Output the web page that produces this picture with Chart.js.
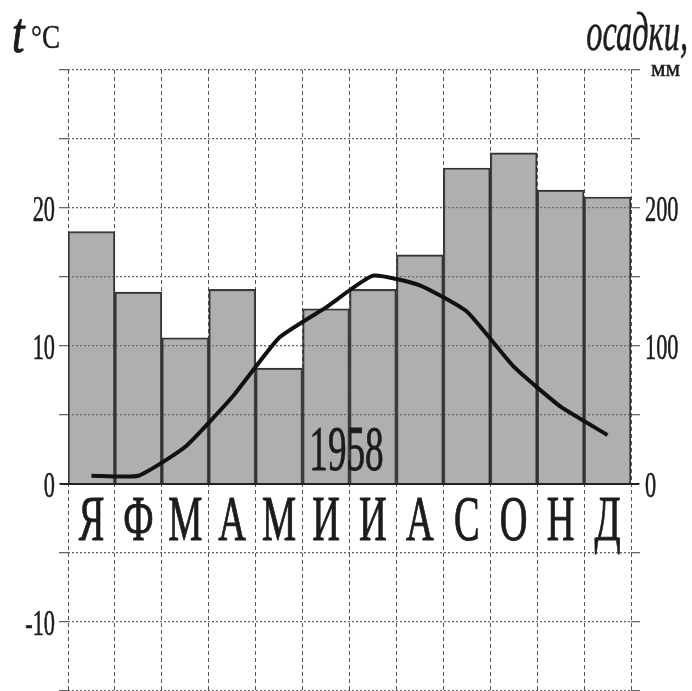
<!DOCTYPE html>
<html>
<head>
<meta charset="utf-8">
<script src="https://cdn.jsdelivr.net/npm/chart.js@4/dist/chart.umd.min.js"></script>
<style>
  body { margin: 0; background: #fff; }
  #wrap { width: 692px; height: 691px; position: relative; }
</style>
</head>
<body>
<div id="wrap"><canvas id="climate"></canvas></div>
<script>
// Климатограмма, 1958
const months = ['Я', 'Ф', 'М', 'А', 'М', 'И', 'И', 'А', 'С', 'О', 'Н', 'Д'];
const temperature = [0.6, 0.6, 2.7, 6.3, 10.6, 12.8, 15.1, 14.4, 12.5, 8.5, 5.6, 3.55];
const precipitation = [183, 139, 106, 141, 84, 127, 141, 166, 229, 240, 213, 208];
const tempTicks = [20, 10, 0, -10];
const precipTicks = [200, 100, 0];
const yearLabel = '1958';

const SERIF = '"Liberation Serif", "DejaVu Serif", serif';
const INK = '#1c1c1c';

// сжатый по ширине текст (bold = доп. обводка)
function drawText(ctx, text, x, y, font, sx, align, bold) {
  ctx.save();
  ctx.font = font;
  ctx.fillStyle = INK;
  ctx.strokeStyle = INK;
  ctx.textAlign = align || 'left';
  ctx.textBaseline = 'alphabetic';
  ctx.translate(x, y);
  ctx.scale(sx, 1);
  ctx.fillText(text, 0, 0);
  if (bold) {
    ctx.lineWidth = bold;
    ctx.strokeText(text, 0, 0);
  }
  ctx.restore();
}

const overlay = {
  id: 'overlay',
  afterDatasetsDraw(chart) {
    const ctx = chart.ctx, area = chart.chartArea;
    const y = chart.scales.y;
    // нулевая линия
    ctx.save();
    ctx.strokeStyle = '#222';
    ctx.lineWidth = 2;
    ctx.beginPath();
    ctx.moveTo(area.left - 8, y.getPixelForValue(0));
    ctx.lineTo(area.right + 8, y.getPixelForValue(0));
    ctx.stroke();
    ctx.restore();
  },
  afterDraw(chart) {
    const ctx = chart.ctx, area = chart.chartArea;
    const x = chart.scales.x, y = chart.scales.y, y1 = chart.scales.y1;

    tempTicks.forEach(v => {
      drawText(ctx, String(v), area.left - 13, y.getPixelForValue(v) + 13, '36px ' + SERIF, 0.62, 'right', 0.6);
    });
    precipTicks.forEach(v => {
      drawText(ctx, String(v), area.right + 14, y1.getPixelForValue(v) + 13, '36px ' + SERIF, 0.62, 'left', 0.6);
    });

    months.forEach((m, i) => {
      drawText(ctx, m, x.getPixelForValue(i), y.getPixelForValue(-4.05), '64px ' + SERIF, 0.6, 'center', 1);
    });

    const midX = (x.getPixelForValue(5) + x.getPixelForValue(6)) / 2 - 3;
    drawText(ctx, yearLabel, midX, y.getPixelForValue(1.0), '63px ' + SERIF, 0.59, 'center', 0.8);

    // подписи осей
    drawText(ctx, 't', 12, 52, 'italic 56px ' + SERIF, 0.8, 'left', 1);
    drawText(ctx, '°C', 31, 48, '34px ' + SERIF, 0.8, 'left', 0.4);
    drawText(ctx, 'осадки,', 688, 50, 'italic 54px ' + SERIF, 0.6, 'right', 0.5);
    drawText(ctx, 'мм', 651, 76, '23px ' + SERIF, 1.0, 'left', 0.5);
  }
};

new Chart(document.getElementById('climate'), {
  data: {
    labels: months,
    datasets: [
      {
        type: 'line',
        data: temperature,
        yAxisID: 'y',
        borderColor: '#111',
        borderWidth: 4,
        pointRadius: 0,
        tension: 0.15,
        order: 0
      },
      {
        type: 'bar',
        data: precipitation,
        yAxisID: 'y1',
        backgroundColor: 'rgba(110,110,110,0.55)',
        borderColor: '#333',
        borderWidth: 1.5,
        categoryPercentage: 1,
        barPercentage: 1,
        order: 1
      }
    ]
  },
  options: {
    responsive: true,
    maintainAspectRatio: false,
    animation: false,
    layout: { padding: { top: 70, left: 0, right: 0, bottom: 0 } },
    plugins: { legend: { display: false }, tooltip: { enabled: false } },
    scales: {
      x: {
        offset: true,
        grid: { offset: true, color: '#555', lineWidth: 1, drawTicks: false },
        border: { display: false, dash: [4, 3] },
        ticks: { display: false },
        afterFit(s) { s.height = 0; }
      },
      y: {
        position: 'left',
        min: -15,
        max: 30,
        ticks: { display: false, stepSize: 5 },
        grid: { color: '#666', lineWidth: 1.3, drawTicks: true, tickLength: 9 },
        border: { display: false, dash: [2, 2] },
        afterFit(s) { s.width = 68; }
      },
      y1: {
        position: 'right',
        min: -150,
        max: 300,
        ticks: { display: false, stepSize: 50 },
        grid: { drawOnChartArea: false, color: '#666', lineWidth: 1.3, drawTicks: true, tickLength: 9 },
        border: { display: false, dash: [2, 2] },
        afterFit(s) { s.width = 61; }
      }
    }
  },
  plugins: [overlay]
});
</script>
</body>
</html>
